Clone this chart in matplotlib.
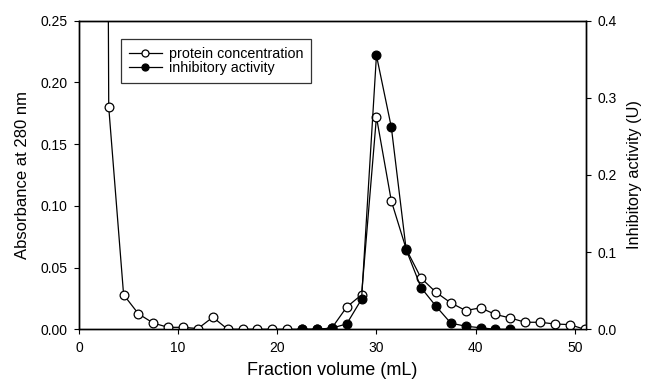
import numpy as np
from matplotlib import pyplot as plt

plt.rcParams['font.family'] = ['Liberation Sans', 'DejaVu Sans']

# protein concentration (absorbance at 280 nm), open circles
protein_x = [1.5, 3.0, 4.5, 6.0, 7.5, 9.0, 10.5, 12.0, 13.5, 15.0, 16.5, 18.0,
             19.5, 21.0, 22.5, 24.0, 25.5, 27.0, 28.5, 30.0, 31.5, 33.0, 34.5,
             36.0, 37.5, 39.0, 40.5, 42.0, 43.5, 45.0, 46.5, 48.0, 49.5, 51.0]
protein_y = [3.0, 0.180, 0.028, 0.0125, 0.005, 0.0016, 0.0016, 0.0006, 0.0098,
             0.0, 0.0, 0.0, 0.0, 0.0, 0.0, 0.0, 0.001, 0.018, 0.028, 0.172,
             0.104, 0.065, 0.0415, 0.030, 0.0214, 0.0152, 0.0174, 0.012, 0.0092,
             0.0057, 0.0057, 0.0043, 0.0038, 0.0]

# inhibitory activity (U), filled circles
activity_x = [22.5, 24.0, 25.5, 27.0, 28.5, 30.0, 31.5, 33.0, 34.5, 36.0,
              37.5, 39.0, 40.5, 42.0, 43.5]
activity_y = [0.0, 0.0, 0.0015, 0.007, 0.039, 0.355, 0.262, 0.103, 0.054,
              0.030, 0.008, 0.004, 0.002, 0.0, 0.0]

fig = plt.figure(figsize=(6.49, 3.81), dpi=100)
ax1 = fig.add_axes([0.1217, 0.1357, 0.7807, 0.81])
ax2 = ax1.twinx()

ms = 6.3
lw = 0.9
l1, = ax1.plot(protein_x, protein_y, '-o', color='black', mfc='white', mec='black',
               ms=ms, lw=lw, mew=0.9, label='protein concentration', zorder=3)
l2, = ax2.plot(activity_x, activity_y, '-o', color='black', mfc='black', mec='black',
               ms=ms, lw=lw, mew=0.9, label='inhibitory activity', zorder=4)

ax1.set_xlim(0, 51.1)
ax1.set_ylim(0, 0.25)
ax2.set_ylim(0, 0.4)

ax1.set_xticks([0, 10, 20, 30, 40, 50])
ax1.set_yticks([0, 0.05, 0.10, 0.15, 0.20, 0.25])
ax1.set_yticklabels(['0.00', '0.05', '0.10', '0.15', '0.20', '0.25'])
ax2.set_yticks([0, 0.1, 0.2, 0.3, 0.4])
ax2.set_yticklabels(['0.0', '0.1', '0.2', '0.3', '0.4'])

for ax in (ax1, ax2):
    ax.tick_params(direction='out', length=3.5, width=0.8, labelsize=10, pad=5)
    for s in ax.spines.values():
        s.set_linewidth(1.0)

ax1.set_xlabel('Fraction volume (mL)', fontsize=13, labelpad=5)
ax1.set_ylabel('Absorbance at 280 nm', fontsize=12, labelpad=7)
ax2.set_ylabel('Inhibitory activity (U)', fontsize=11.8, labelpad=7)

leg = ax2.legend(handles=[l1, l2], loc='upper left', bbox_to_anchor=(0.083, 0.941),
                 borderaxespad=0, fontsize=10.3, frameon=True, fancybox=False,
                 edgecolor='black', handlelength=2.3, borderpad=0.55,
                 labelspacing=0.05, handletextpad=0.5, markerscale=0.8)
leg.get_frame().set_linewidth(0.9)

fig.savefig('out.png', dpi=100)
